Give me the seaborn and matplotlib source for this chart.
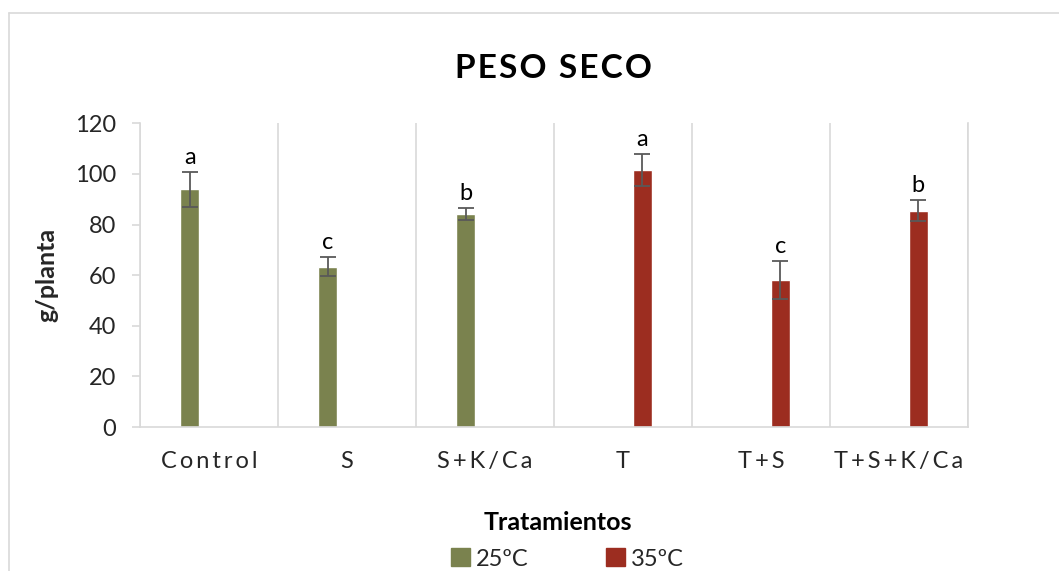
import matplotlib
matplotlib.use("Agg")
import matplotlib.pyplot as plt
import matplotlib.patches as mpatches
from matplotlib.ticker import FixedLocator
import seaborn as sns
import pandas as pd

# ---- data ----
categories = ["Control", "S", "S+K/Ca", "T", "T+S", "T+S+K/Ca"]
temperature = ["25ºC", "25ºC", "25ºC", "35ºC", "35ºC", "35ºC"]
values = [93.9, 63.3, 84.1, 101.4, 58.0, 85.4]
errors = [6.8, 3.8, 2.4, 6.3, 7.4, 4.2]
letters = ["a", "c", "b", "a", "c", "b"]
hue_levels = ["25ºC", "35ºC"]
colors = {"25ºC": "#7A824E", "35ºC": "#9C2D20"}

df = pd.DataFrame({"Tratamiento": categories, "Temp": temperature,
                   "valor": values, "err": errors, "letra": letters})

sns.set_theme(style="white")
plt.rcParams["font.family"] = ["Lato", "DejaVu Sans"]

def spaced(s, sep="\u2009"):
    return sep.join(list(s))

fig = plt.figure(figsize=(10.59, 5.71), dpi=100)
ax = fig.add_axes([140/1059, 1-427/571, (968-140)/1059, (427-123.3)/571])

sns.barplot(data=df, x="Tratamiento", y="valor", hue="Temp", order=categories,
            hue_order=hue_levels, palette=colors, dodge=True, width=0.56, gap=0.5,
            errorbar=None, legend=False, ax=ax, saturation=1)

# error bars and letters
for bar in ax.patches:
    h = bar.get_height()
    if h <= 0:
        continue
    xc = bar.get_x() + bar.get_width() / 2
    idx = int(round(xc))
    row = df[df["Tratamiento"] == categories[idx]].iloc[0]
    ax.errorbar(xc, row["valor"], yerr=row["err"], fmt="none", ecolor="#595959",
                elinewidth=1.3, capsize=5.5, capthick=1.3, zorder=5)
    ax.annotate(row["letra"], (xc, row["valor"] + row["err"]), xytext=(0, 3),
                textcoords="offset points", ha="center", va="bottom",
                fontsize=17, color="black")

ax.set_xlim(-0.5, len(categories) - 0.5)
ax.set_ylim(0, 120)
ax.set_yticks([0, 20, 40, 60, 80, 100, 120])
ax.set_xticks(range(len(categories)))
ax.set_xticklabels([spaced(c) for c in categories], fontsize=17)
ax.xaxis.set_minor_locator(FixedLocator([i - 0.5 for i in range(len(categories) + 1)]))
ax.grid(False)
ax.grid(True, which="minor", axis="x", color="#D9D9D9", linewidth=1.2)
ax.tick_params(axis="x", which="major", length=0, pad=17, labelsize=17)
ax.tick_params(axis="x", which="minor", length=6, color="#D9D9D9", width=1.2, direction="out")
ax.tick_params(axis="y", which="major", length=6, color="#D9D9D9", width=1.2,
               direction="out", pad=11, labelsize=17, left=True)
ax.spines["top"].set_visible(False)
for side in ["left", "right", "bottom"]:
    ax.spines[side].set_color("#D9D9D9")
    ax.spines[side].set_linewidth(1.2)
ax.set_axisbelow(True)

ax.set_xlabel("")
ax.set_ylabel("g/planta", fontsize=18, fontweight="bold", labelpad=12)

fig.text(553/1059, 1-68/571, spaced("PESO SECO", "\u200a"), ha="center", va="center",
         fontsize=24, fontweight="bold", color="black")
fig.text(558/1059, 1-522/571, "Tratamientos", ha="center", va="center",
         fontsize=18, fontweight="bold", color="black")

handles = [mpatches.Patch(color=colors[h], label=h) for h in hue_levels]
fig.legend(handles=handles, loc="center left", bbox_to_anchor=(451/1059, 1-559/571),
           ncol=2, frameon=False, fontsize=17, handlelength=0.8, handleheight=0.8,
           handletextpad=0.25, columnspacing=3.3, borderpad=0, borderaxespad=0)

# chart frame
fig.add_artist(plt.Line2D([9/1059, 9/1059], [0, 1-13/571], color="#D9D9D9",
                          linewidth=1.2, transform=fig.transFigure))
fig.add_artist(plt.Line2D([9/1059, 1], [1-13/571, 1-13/571], color="#D9D9D9",
                          linewidth=1.2, transform=fig.transFigure))

fig.savefig("out.png", dpi=100, facecolor="white")
